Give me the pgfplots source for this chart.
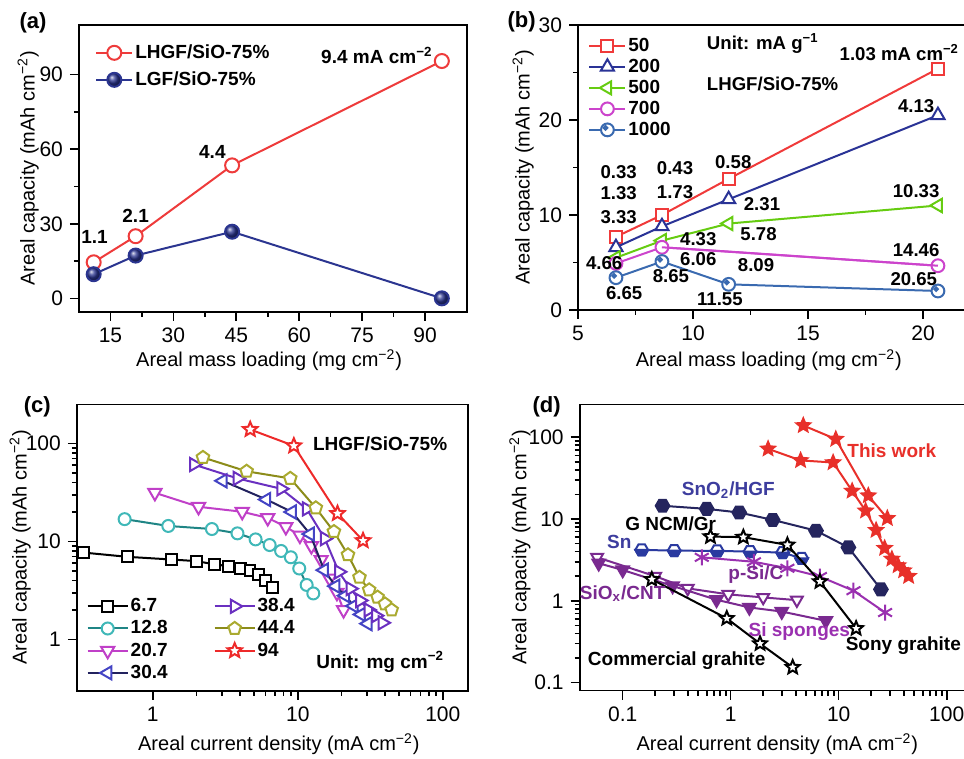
\documentclass[border=0pt]{standalone}
\usepackage{fontspec}
\setmainfont{Liberation Sans}
\usepackage{pgfplots}
\pgfplotsset{compat=1.18}
\usetikzlibrary{plotmarks}

\definecolor{aRed}{HTML}{EE3B3B}
\definecolor{aBlue}{HTML}{2B3590}
\definecolor{bRed}{HTML}{F03A3A}
\definecolor{bNavy}{HTML}{2A3396}
\definecolor{bGreen}{HTML}{66CC11}
\definecolor{bMag}{HTML}{CC44CC}
\definecolor{bBlue}{HTML}{3A6AB0}
\definecolor{cTeal}{HTML}{1F8585}
\definecolor{cTealM}{HTML}{40B8B8}
\definecolor{cMag}{HTML}{C040C8}
\definecolor{cNavy}{HTML}{22225E}
\definecolor{cNavyM}{HTML}{4444C4}
\definecolor{cPurp}{HTML}{6A30C0}
\definecolor{cOlive}{HTML}{8C8C1A}
\definecolor{cOliveM}{HTML}{AAAA30}
\definecolor{cRed}{HTML}{EE2A2A}
\definecolor{dRed}{HTML}{E8302A}
\definecolor{dNavy}{HTML}{25255E}
\definecolor{dSn}{HTML}{2A3AA0}
\definecolor{dPSi}{HTML}{9A30B0}
\definecolor{dSiO}{HTML}{7A2A90}
\definecolor{dLab}{HTML}{3D3D9E}

% hexagon marks for panel (d)
\pgfdeclareplotmark{hexa}{%
  \pgfpathmoveto{\pgfpointpolar{0}{\pgfplotmarksize}}%
  \pgfpathlineto{\pgfpointpolar{60}{\pgfplotmarksize}}%
  \pgfpathlineto{\pgfpointpolar{120}{\pgfplotmarksize}}%
  \pgfpathlineto{\pgfpointpolar{180}{\pgfplotmarksize}}%
  \pgfpathlineto{\pgfpointpolar{240}{\pgfplotmarksize}}%
  \pgfpathlineto{\pgfpointpolar{300}{\pgfplotmarksize}}%
  \pgfpathclose\pgfusepathqfillstroke}
\pgfdeclareplotmark{halfhex}{%
  \pgfpathmoveto{\pgfpointpolar{0}{\pgfplotmarksize}}%
  \pgfpathlineto{\pgfpointpolar{60}{\pgfplotmarksize}}%
  \pgfpathlineto{\pgfpointpolar{120}{\pgfplotmarksize}}%
  \pgfpathlineto{\pgfpointpolar{180}{\pgfplotmarksize}}%
  \pgfpathlineto{\pgfpointpolar{240}{\pgfplotmarksize}}%
  \pgfpathlineto{\pgfpointpolar{300}{\pgfplotmarksize}}%
  \pgfpathclose\pgfsetfillcolor{white}\pgfusepathqfillstroke
  \pgfpathmoveto{\pgfpointpolar{0}{\pgfplotmarksize}}%
  \pgfpathlineto{\pgfpointpolar{-60}{\pgfplotmarksize}}%
  \pgfpathlineto{\pgfpointpolar{-120}{\pgfplotmarksize}}%
  \pgfpathlineto{\pgfpointpolar{180}{\pgfplotmarksize}}%
  \pgfpathclose\pgfsetfillcolor{dSn}\pgfusepathqfillstroke}
% five-pointed star outline
\pgfdeclareplotmark{pstar}{%
  \pgfpathmoveto{\pgfpointpolar{90}{\pgfplotmarksize}}%
  \pgfpathlineto{\pgfpointpolar{126}{0.45\pgfplotmarksize}}%
  \pgfpathlineto{\pgfpointpolar{162}{\pgfplotmarksize}}%
  \pgfpathlineto{\pgfpointpolar{198}{0.45\pgfplotmarksize}}%
  \pgfpathlineto{\pgfpointpolar{234}{\pgfplotmarksize}}%
  \pgfpathlineto{\pgfpointpolar{270}{0.45\pgfplotmarksize}}%
  \pgfpathlineto{\pgfpointpolar{306}{\pgfplotmarksize}}%
  \pgfpathlineto{\pgfpointpolar{342}{0.45\pgfplotmarksize}}%
  \pgfpathlineto{\pgfpointpolar{18}{\pgfplotmarksize}}%
  \pgfpathlineto{\pgfpointpolar{54}{0.45\pgfplotmarksize}}%
  \pgfpathclose\pgfusepathqfillstroke}
% circle with a small dot, 1000 mA/g in (b)
\pgfdeclareplotmark{odot}{%
  \pgfpathcircle{\pgfpointorigin}{\pgfplotmarksize}\pgfusepathqfillstroke
  \pgfpathcircle{\pgfpoint{-0.3\pgfplotmarksize}{0.3\pgfplotmarksize}}{0.28\pgfplotmarksize}\pgfusepathqstroke}

\newcommand{\bl}{\bfseries\fontsize{9.5}{11}\selectfont}

\pgfplotsset{
  panel/.style={
    scale only axis,
    axis line style={line width=0.9pt},
    tick align=outside, xtick pos=bottom, ytick pos=left,
    major tick length=4.5pt, minor tick length=2.5pt,
    every tick/.append style={line width=0.8pt, black},
    tick label style={font=\fontsize{10.5}{12}\selectfont},
    label style={font=\fontsize{11}{13}\selectfont},
    /pgf/number format/assume math mode=true,
    clip mode=individual,
    legend cell align=left,
    legend image code/.code={\draw[mark repeat=2,mark phase=2] plot coordinates {(0pt,0pt)(9pt,0pt)(18pt,0pt)};},
    legend style={draw=none, fill=none, inner sep=0pt, font=\bl,
      nodes={inner sep=1pt, text height=7pt, text depth=1.5pt}},
  },
  ylab/.style={every axis y label/.style={at={(axis description cs:#1,0.5)}, rotate=90, anchor=center}},
  xlab/.style 2 args={every axis x label/.style={at={(axis description cs:#1,#2)}, anchor=center}},
  ln/.style={line width=1pt},
}

\begin{document}
\begin{tikzpicture}
\useasboundingbox (0,0) rectangle (482pt,379.5pt);

% ---------------- (a)
\begin{axis}[panel, at={(39.5pt,223.5pt)}, anchor=south west,
  width=194pt, height=143.5pt,
  xmin=7.5, xmax=100, ymin=-5.5, ymax=110,
  xtick={15,30,45,60,75,90}, ytick={0,30,60,90},
  minor x tick num=1, minor y tick num=1,
  ylab=-0.131, xlab={0.49}{-0.167},
  xlabel={Areal mass loading (mg cm\textsuperscript{−2})},
  ylabel={Areal capacity (mAh cm\textsuperscript{−2})},
  legend style={at={(0.041,0.941)}, anchor=north west, row sep=3pt}]
\addplot[ln, aRed, mark=*, mark size=3.5pt, mark options={fill=white}]
  coordinates {(11,14.5)(21,25)(44,53.5)(94,95.5)};
\addplot[ln, aBlue, mark=ball, mark size=3.5pt, mark options={ball color=aBlue}]
  coordinates {(11,9.7)(21,17.2)(44,26.8)(94,0)};
\legend{LHGF/SiO-75\%, LGF/SiO-75\%}
\node[font=\bl] at (axis cs:11.2,24.7) {1.1};
\node[font=\bl] at (axis cs:21,33) {2.1};
\node[font=\bl] at (axis cs:39.3,59) {4.4};
\node[font=\bl] at (axis cs:78.5,97.7) {9.4 mA cm\textsuperscript{−2}};
\end{axis}
\node[font=\bfseries\fontsize{11}{13}\selectfont] at (16.5pt,368pt) {(a)};

% ---------------- (b)
\begin{axis}[panel, at={(289pt,224.5pt)}, anchor=south west,
  width=195.5pt, height=142.5pt,
  xmin=5, xmax=22, ymin=0, ymax=30,
  xtick={5,10,15,20}, ytick={0,10,20,30},
  minor x tick num=1, minor y tick num=1,
  ylab=-0.14, xlab={0.488}{-0.175},
  xlabel={Areal mass loading (mg cm\textsuperscript{−2})},
  ylabel={Areal capacity (mAh cm\textsuperscript{−2})},
  legend style={at={(0.0256,0.965)}, anchor=north west, row sep=0pt}]
\addplot[ln, bRed, mark=square*, mark size=3pt, mark options={fill=white}]
  coordinates {(6.65,7.7)(8.65,10.0)(11.55,13.8)(20.65,25.4)};
\addplot[ln, bNavy, mark=triangle*, mark size=3.8pt, mark options={fill=white}]
  coordinates {(6.65,6.6)(8.65,8.8)(11.55,11.65)(20.65,20.5)};
\addplot[ln, bGreen, mark=triangle*, mark size=3.8pt, mark options={fill=white, rotate=90}]
  coordinates {(6.65,5.5)(8.65,7.3)(11.55,9.1)(20.65,11.0)};
\addplot[ln, bMag, mark=*, mark size=3.2pt, mark options={fill=white}]
  coordinates {(6.65,4.9)(8.65,6.6)(20.65,4.66)};
\addplot[ln, bBlue, mark=odot, mark size=3.2pt, mark options={fill=white}]
  coordinates {(6.65,3.4)(8.65,5.1)(11.55,2.7)(20.65,2.0)};
\addplot[ln, bMag, forget plot]
  coordinates {(8.65,6.6)(11.55,6.15)(20.65,4.66)};
\legend{50, 200, 500, 700, 1000}
\begin{scope}[every node/.style={font=\bfseries\fontsize{9.3}{11}\selectfont}]
\node at (axis cs:6.77,14.56) {0.33};
\node at (axis cs:6.77,12.35) {1.33};
\node at (axis cs:6.77,9.82) {3.33};
\node at (axis cs:9.22,14.9) {0.43};
\node at (axis cs:9.22,12.45) {1.73};
\node at (axis cs:11.75,15.6) {0.58};
\node at (axis cs:13.0,11.16) {2.31};
\node at (axis cs:10.23,7.44) {4.33};
\node at (axis cs:12.85,7.96) {5.78};
\node at (axis cs:6.14,4.9) {4.66};
\node at (axis cs:10.23,5.34) {6.06};
\node at (axis cs:12.74,4.74) {8.09};
\node at (axis cs:9.04,3.58) {8.65};
\node at (axis cs:7.01,1.75) {6.65};
\node at (axis cs:11.17,1.16) {11.55};
\node at (axis cs:19.7,21.47) {4.13};
\node at (axis cs:19.7,12.56) {10.33};
\node at (axis cs:19.7,6.32) {14.46};
\node at (axis cs:19.6,3.23) {20.65};
\node at (axis cs:18.97,27.1) {1.03 mA cm\textsuperscript{−2}};
\node[anchor=west] at (axis cs:10.3,28.07) {Unit: mA g\textsuperscript{−1}};
\node[anchor=west] at (axis cs:10.3,23.8) {LHGF/SiO-75\%};
\end{scope}
\end{axis}
\node[font=\bfseries\fontsize{11}{13}\selectfont] at (260.8pt,368.6pt) {(b)};

% ---------------- (c)
\begin{axis}[panel, at={(38.45pt,34.15pt)}, anchor=south west,
  width=195.7pt, height=143.1pt,
  xmode=log, ymode=log,
  xmin=0.3, xmax=150, ymin=0.3, ymax=250,
  xtick={1,10,100}, xticklabels={1,10,100},
  ytick={1,10,100}, yticklabels={1,10,100},
  ylab=-0.145, xlab={0.516}{-0.186},
  xlabel={Areal current density (mA cm\textsuperscript{−2})},
  ylabel={Areal capacity (mAh cm\textsuperscript{−2})},
  legend columns=2,
  legend image code/.code={\draw[mark repeat=2,mark phase=2] plot coordinates {(0pt,0pt)(10pt,0pt)(20pt,0pt)};},
  legend style={at={(0.024,0.333)}, anchor=north west, row sep=0.6pt,
    /tikz/every even column/.append style={column sep=22pt}}]
\addplot[ln, black, mark=square*, mark size=2.7pt, mark options={fill=white}, forget plot]
  coordinates {(0.335,7.7)(0.67,6.97)(1.34,6.55)(2.01,6.3)(2.68,5.83)(3.35,5.6)
  (4.02,5.3)(4.69,5.1)(5.36,4.6)(6.03,4.03)(6.7,3.4)};
\addplot[ln, cTeal, mark=*, mark size=3pt, mark options={fill=white, draw=cTealM}, forget plot]
  coordinates {(0.64,16.9)(1.28,14.4)(2.56,13.4)(3.84,12.1)(5.12,10.5)(6.4,9.2)
  (7.68,8.0)(8.96,6.9)(10.24,5.3)(11.52,3.6)(12.8,2.95)};
\addplot[ln, cMag, mark=triangle*, mark size=3.8pt, mark options={fill=white, rotate=180}, forget plot]
  coordinates {(1.035,31.4)(2.07,22.6)(4.14,20.1)(6.21,17.4)(8.28,14.1)(10.35,11.5)
  (12.42,9.0)(14.49,6.5)(16.56,4.2)(18.63,3.0)(20.7,2.0)};
\addplot[ln, cNavy, mark=triangle*, mark size=3.8pt, mark options={fill=white, draw=cNavyM, rotate=90}, forget plot]
  coordinates {(3.04,41.6)(6.08,26.8)(9.12,20.0)(12.16,11.9)(15.2,5.1)(18.24,3.5)
  (21.28,2.8)(24.32,2.2)(27.36,1.8)(30.4,1.45)};
\addplot[ln, cPurp, mark=triangle*, mark size=3.8pt, mark options={fill=white, rotate=-90}, forget plot]
  coordinates {(1.92,61)(3.84,44)(7.68,34.5)(11.52,21.5)(15.36,10.7)(19.2,4.9)
  (23.04,3.3)(26.88,2.5)(30.72,2.0)(34.56,1.75)(38.4,1.48)};
\addplot[ln, cOlive, mark=pentagon*, mark size=3.3pt, mark options={fill=white, draw=cOliveM}, forget plot]
  coordinates {(2.22,72)(4.44,52)(8.88,44)(13.32,22)(17.76,12.6)(22.2,7.3)
  (26.64,4.3)(31.08,3.2)(35.52,2.7)(39.96,2.3)(44.4,2.0)};
\addplot[ln, cRed, mark=pstar, mark size=3.8pt, mark options={fill=white}, forget plot]
  coordinates {(4.7,139)(9.4,94.7)(18.8,19.3)(28.2,10.2)};
\addlegendimage{ln, black, mark=square*, mark size=2.7pt, mark options={fill=white}}
\addlegendentry{6.7}
\addlegendimage{ln, cPurp, mark=triangle*, mark size=3.8pt, mark options={fill=white, rotate=-90}}
\addlegendentry{38.4}
\addlegendimage{ln, cTeal, mark=*, mark size=3pt, mark options={fill=white, draw=cTealM}}
\addlegendentry{12.8}
\addlegendimage{ln, cOlive, mark=pentagon*, mark size=3.3pt, mark options={fill=white, draw=cOliveM}}
\addlegendentry{44.4}
\addlegendimage{ln, cMag, mark=triangle*, mark size=3.8pt, mark options={fill=white, rotate=180}}
\addlegendentry{20.7}
\addlegendimage{ln, cRed, mark=pstar, mark size=3.8pt, mark options={fill=white}}
\addlegendentry{94}
\addlegendimage{ln, cNavy, mark=triangle*, mark size=3.8pt, mark options={fill=white, draw=cNavyM, rotate=90}}
\addlegendentry{30.4}
\node[font=\bl] at (axis cs:37,100) {LHGF/SiO-75\%};
\node[font=\bl] at (axis cs:37,0.59) {Unit: mg cm\textsuperscript{−2}};
\end{axis}
\node[font=\bfseries\fontsize{11}{13}\selectfont] at (18.6pt,176pt) {(c)};

% ---------------- (d)
\begin{axis}[panel, at={(289.85pt,34.2pt)}, anchor=south west,
  width=193pt, height=143pt,
  xmode=log, ymode=log,
  xmin=0.04, xmax=150, ymin=0.08, ymax=250,
  xtick={0.1,1,10,100}, xticklabels={0.1,1,10,100},
  ytick={0.1,1,10,100}, yticklabels={0.1,1,10,100},
  ylab=-0.155, xlab={0.512}{-0.187},
  xlabel={Areal current density (mA cm\textsuperscript{−2})},
  ylabel={Areal capacity (mAh cm\textsuperscript{−2})}]
% This work
\addplot[ln, dRed, mark=pstar, mark size=3.5pt]
  coordinates {(4.7,139)(9.4,94.7)(18.8,19.3)(28.2,10.2)};
\addplot[ln, dRed, mark=pstar, mark size=3.5pt]
  coordinates {(2.22,72)(4.44,52)(8.88,49)(13.32,22)(17.76,12.6)(22.2,7.3)
  (26.64,4.4)(31.08,3.25)(35.52,2.7)(39.96,2.34)(44.4,2.0)};
% SnO2/HGF
\addplot[ln, dNavy, mark=hexa, mark size=3.4pt]
  coordinates {(0.234,14.5)(0.6,13.3)(1.2,12.0)(2.45,9.75)(6.17,7.2)(12.3,4.5)(24.6,1.38)};
% Sn
\addplot[ln, dSn, mark=halfhex, mark size=3.2pt]
  coordinates {(0.15,4.19)(0.3,4.11)(0.75,4.07)(1.51,4.0)(3.03,3.88)(4.54,3.31)};
% p-Si/C
\addplot[ln, dPSi, mark=asterisk, mark size=4pt]
  coordinates {(0.54,3.4)(1.64,3.0)(3.35,2.5)(6.7,1.98)(13.7,1.33)(26.9,0.72)};
% SiOx/CNT
\addplot[ln, dSiO, mark=triangle*, mark size=3.4pt, mark options={fill=white, rotate=180}]
  coordinates {(0.058,3.4)(0.2,2.0)(0.4,1.42)(0.95,1.2)(2.0,1.1)(4.1,1.02)};
% Si sponges
\addplot[ln, dSiO, mark=triangle*, mark size=3.6pt, mark options={rotate=180}]
  coordinates {(0.06,2.88)(0.1,2.38)(0.29,1.52)(0.74,1.03)(1.49,0.83)(2.97,0.74)(7.6,0.57)};
% G NCM/Gr, Sony graphite
\addplot[ln, black, mark=pstar, mark size=3.6pt, mark options={fill=white}]
  coordinates {(0.65,6.1)(1.31,6.0)(3.35,4.82)(6.7,1.72)(14.5,0.46)};
% Commercial graphite
\addplot[ln, black, mark=pstar, mark size=3.6pt, mark options={fill=white}]
  coordinates {(0.186,1.83)(0.92,0.61)(1.87,0.30)(3.75,0.154)};
\node[font=\bl, dRed] at (axis cs:31,68) {This work};
\node[font=\bl, dLab] at (axis cs:0.95,22.7) {SnO\textsubscript{2}/HGF};
\node[font=\bl] at (axis cs:0.278,8.7) {G NCM/Gr};
\node[font=\bl, dLab] at (axis cs:0.093,5.2) {Sn};
\node[font=\bl, dSiO] at (axis cs:1.71,2.1) {p-Si/C};
\node[font=\bl, dSiO] at (axis cs:0.1,1.24) {SiO\textsubscript{x}/CNT};
\node[font=\bl, dPSi] at (axis cs:4.32,0.42) {Si sponges};
\node[font=\bl] at (axis cs:39.7,0.283) {Sony grahite};
\node[font=\bl] at (axis cs:0.316,0.186) {Commercial grahite};
\end{axis}
\node[font=\bfseries\fontsize{11}{13}\selectfont] at (273.3pt,176pt) {(d)};

\end{tikzpicture}
\end{document}
